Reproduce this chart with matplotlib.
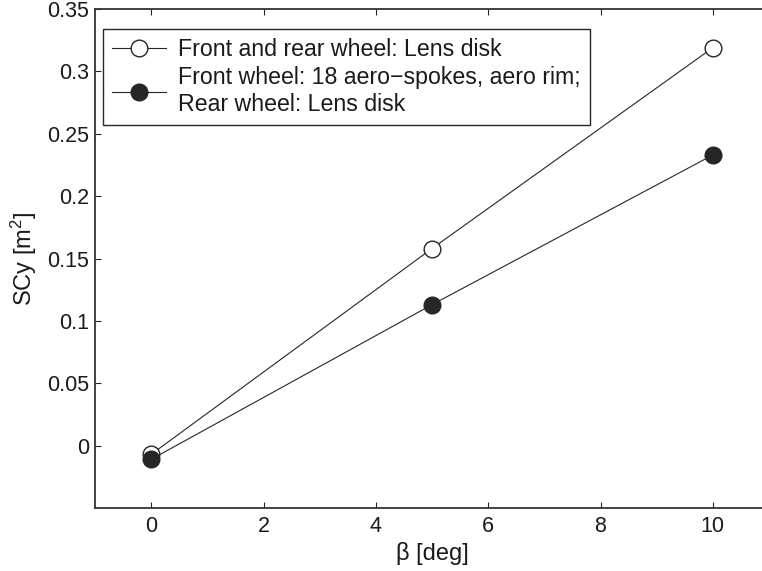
import numpy as np
import matplotlib
matplotlib.use("Agg")
from matplotlib import pyplot as plt

plt.rcParams['font.family'] = ['Liberation Sans', 'DejaVu Sans']
plt.rcParams['mathtext.fontset'] = 'custom'
plt.rcParams['mathtext.rm'] = 'Liberation Sans'
plt.rcParams['mathtext.it'] = 'Liberation Sans'

# yaw angle and side force area
beta = [0, 5, 10]
scy_lens = [-0.007, 0.158, 0.319]
scy_aero = [-0.011, 0.113, 0.233]
label_lens = "Front and rear wheel: Lens disk"
label_aero = "Front wheel: 18 aero\u2212spokes, aero rim;\nRear wheel: Lens disk"

fig = plt.figure(figsize=(7.62, 5.71), dpi=100)
# axes run past the right edge, as in the cropped original
ax = fig.add_axes([0.1247, 0.1103, 0.8845, 0.8739])

dark = "#262626"
ax.plot(beta, scy_lens, color=dark, lw=0.8, marker='o', ms=12,
        mfc='white', mec=dark, mew=1.0, label=label_lens, zorder=3)
ax.plot(beta, scy_aero, color=dark, lw=0.8, marker='o', ms=12,
        mfc=dark, mec=dark, mew=1.0, label=label_aero, zorder=4)

ax.set_xlim(-1, 11)
ax.set_ylim(-0.05, 0.35)
ax.set_xticks([0, 2, 4, 6, 8, 10])
ax.set_xticklabels(['0', '2', '4', '6', '8', '10'])
ax.set_yticks([0, 0.05, 0.1, 0.15, 0.2, 0.25, 0.3, 0.35])
ax.set_yticklabels(['0', '0.05', '0.1', '0.15', '0.2', '0.25', '0.3', '0.35'])
ax.tick_params(direction='in', top=True, right=True, length=4.5, width=0.8,
               labelsize=15.5, color=dark, labelcolor='#1a1a1a')
ax.tick_params(axis='x', pad=6)
ax.tick_params(axis='y', pad=4)
for s in ax.spines.values():
    s.set_color("#333333")
    s.set_linewidth(1.3)

ax.set_xlabel("\u03b2 [deg]", fontsize=17, labelpad=3, color='#1a1a1a')
ax.set_ylabel(r"SCy [m$^\mathrm{2}$]", fontsize=17, labelpad=6, color='#1a1a1a')

leg = ax.legend(loc='upper left', bbox_to_anchor=(0.0119, 0.9599),
                borderaxespad=0, fontsize=16.7, fancybox=False,
                edgecolor=dark, framealpha=1, handlelength=2.3,
                handletextpad=0.55, borderpad=0.4, labelspacing=0.2)
leg.get_frame().set_linewidth(1.0)
for t in leg.get_texts():
    t.set_color('#1a1a1a')

fig.savefig("out.png", dpi=100)
